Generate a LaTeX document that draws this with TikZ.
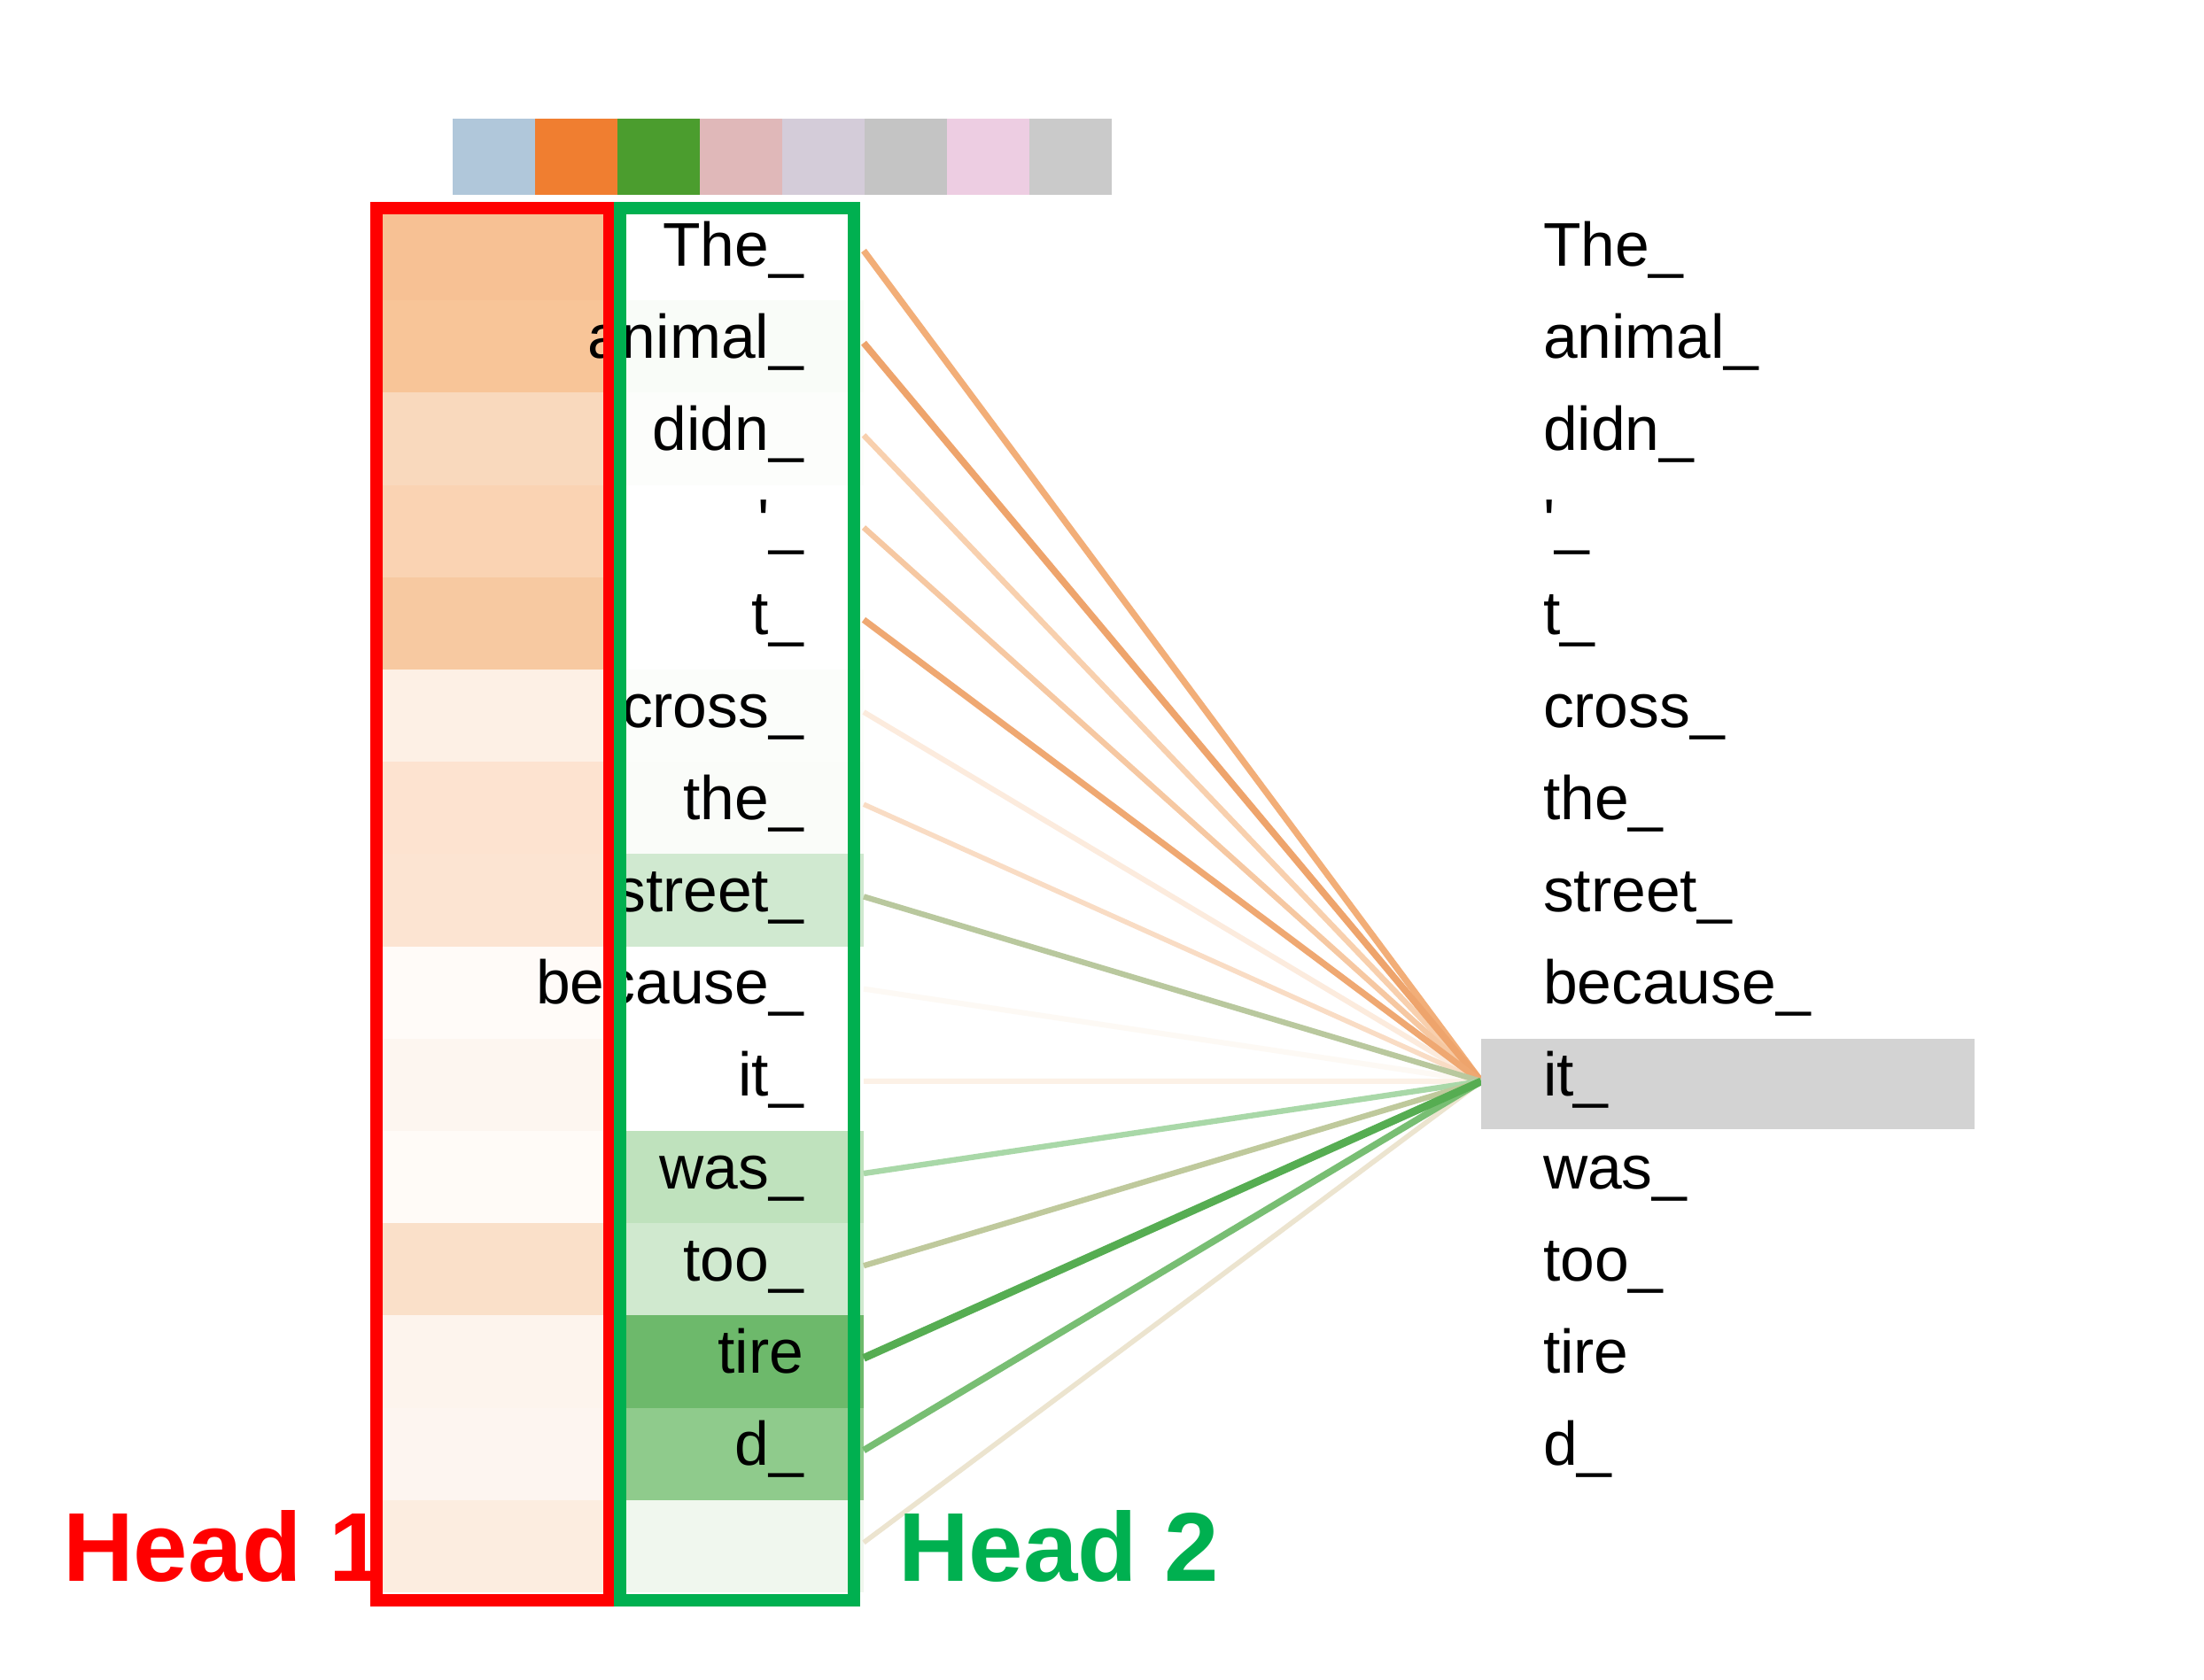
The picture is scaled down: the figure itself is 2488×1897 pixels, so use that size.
\documentclass[tikz,border=0pt]{standalone}
\usepackage{fontspec}
\setmainfont{Liberation Sans}
\newfontfamily\tokfont{Liberation Sans}
% colour bar
\definecolor{b1}{HTML}{B0C7DA}
\definecolor{b2}{HTML}{F07E30}
\definecolor{b3}{HTML}{4B9D2E}
\definecolor{b4}{HTML}{E0B8B9}
\definecolor{b5}{HTML}{D4CCD9}
\definecolor{b6}{HTML}{C4C4C4}
\definecolor{b7}{HTML}{EDCDE2}
\definecolor{b8}{HTML}{CACACA}
% head 1 cells
\definecolor{o0}{HTML}{F7C194}
\definecolor{o1}{HTML}{F8C598}
\definecolor{o2}{HTML}{F9D9BD}
\definecolor{o3}{HTML}{FAD3B3}
\definecolor{o4}{HTML}{F7C9A1}
\definecolor{o5}{HTML}{FDF0E5}
\definecolor{o6}{HTML}{FDE3D0}
\definecolor{o7}{HTML}{FCE4D2}
\definecolor{o8}{HTML}{FFFBF8}
\definecolor{o9}{HTML}{FDF6F0}
\definecolor{o10}{HTML}{FFFBF7}
\definecolor{o11}{HTML}{FAE0C9}
\definecolor{o12}{HTML}{FDF4ED}
\definecolor{o13}{HTML}{FDF5F0}
\definecolor{o14}{HTML}{FCEDE0}
% head 2 cells
\definecolor{g0}{HTML}{FFFFFF}
\definecolor{g1}{HTML}{F9FCF8}
\definecolor{g2}{HTML}{FCFDFB}
\definecolor{g3}{HTML}{FFFFFF}
\definecolor{g4}{HTML}{FFFFFF}
\definecolor{g5}{HTML}{FBFDFA}
\definecolor{g6}{HTML}{FAFCF9}
\definecolor{g7}{HTML}{D0E9D0}
\definecolor{g8}{HTML}{FFFFFF}
\definecolor{g9}{HTML}{FFFFFF}
\definecolor{g10}{HTML}{BFE2BD}
\definecolor{g11}{HTML}{D0E9CF}
\definecolor{g12}{HTML}{6DB96B}
\definecolor{g13}{HTML}{8FCB8C}
\definecolor{g14}{HTML}{F0F7EE}
% connector colours
\definecolor{l0}{HTML}{F2AE78}
\definecolor{l1}{HTML}{EEA46C}
\definecolor{l2}{HTML}{F8D0AE}
\definecolor{l3}{HTML}{F6C8A2}
\definecolor{l4}{HTML}{EFA872}
\definecolor{l5}{HTML}{FCEBDD}
\definecolor{l6}{HTML}{F9DCC4}
\definecolor{l7}{HTML}{B9C89E}
\definecolor{l8}{HTML}{FDF9F4}
\definecolor{l9}{HTML}{FCF1E6}
\definecolor{l10}{HTML}{A9D8A8}
\definecolor{l11}{HTML}{BFC99C}
\definecolor{l12}{HTML}{56AD52}
\definecolor{l13}{HTML}{78BE73}
\definecolor{l14}{HTML}{ECE4CF}
\definecolor{hl}{HTML}{D3D3D3}
\definecolor{headred}{HTML}{FF0000}
\definecolor{headgreen}{HTML}{00B050}
\begin{document}
\begin{tikzpicture}[x=0.25pt,y=-0.25pt,
  tok/.style={inner sep=0pt, outer sep=0pt, font=\tokfont\fontsize{17.4}{20}\selectfont, text=black},
  headlbl/.style={inner sep=0pt, outer sep=0pt, font=\tokfont\bfseries\fontsize{27.6}{30}\selectfont, anchor=base west},
  conn/.style={line cap=butt},
  frame/.style={line width=3.4pt}]
\useasboundingbox[fill=white] (0,0) rectangle (2488,1897);
% colour bar
\foreach \k in {1,...,8}{
  \fill[b\k] ({511+93*(\k-1)},134) rectangle ({511+93*\k},220);
}
% cells
\foreach \i in {0,...,14}{
  \pgfmathsetmacro\t{235+104.2*\i}
  \fill[o\i] (425,\t) rectangle (690,{\t+104.2});
  \fill[g\i] (700,\t) rectangle (975,{\t+104.2});
  \coordinate (s\i) at (975,{\t+48});
}
\coordinate (hub) at (1672,1221);
% connectors
\foreach \i/\w in {8/1.5,9/1.5,5/1.5,6/1.4,14/1.4,2/1.6,3/1.6,0/1.8,1/1.9,4/1.8,7/1.6,10/1.6,11/1.6,13/1.9,12/2.2}{
  \draw[conn, l\i, line width=\w pt] (s\i) -- (hub);
}
% left tokens
\foreach \i/\w in {0/The\_,1/animal\_,2/didn\_,3/\textquotesingle\_,4/t\_,5/cross\_,6/the\_,7/street\_,8/because\_,9/it\_,10/was\_,11/too\_,12/tire,13/d\_}{
  \pgfmathsetmacro\t{235+104.2*\i}
  \node[tok, anchor=base east] (a\i) at (907,{\t+65}) {\w};
}
% head frames
\draw[frame, headred] (425,235) rectangle (688,1807);
\draw[frame, headgreen] (700,235) rectangle (964,1807);
% highlighted query token
\fill[hl] (1672,1173) rectangle (2229,1275);
% right tokens
\foreach \i/\w in {0/The\_,1/animal\_,2/didn\_,3/\textquotesingle\_,4/t\_,5/cross\_,6/the\_,7/street\_,8/because\_,9/it\_,10/was\_,11/too\_,12/tire,13/d\_}{
  \pgfmathsetmacro\t{235+104.2*\i}
  \node[tok, anchor=base west] (r\i) at (1742,{\t+65}) {\w};
}
% labels
\node[headlbl, text=headred] (h1) at (71,1785) {Head 1};
\node[headlbl, text=headgreen] (h2) at (1014,1785) {Head 2};
\end{tikzpicture}
\end{document}
